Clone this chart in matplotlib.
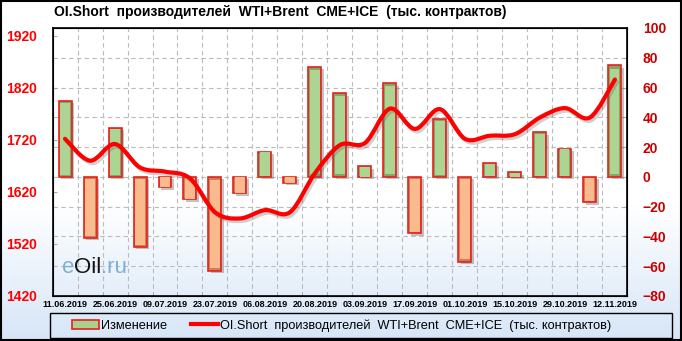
import numpy as np
import matplotlib
matplotlib.use("Agg")
import matplotlib.pyplot as plt
from matplotlib.path import Path
from matplotlib.patches import PathPatch, Rectangle
from matplotlib.lines import Line2D
import matplotlib.transforms as mtransforms

plt.rcParams['font.family'] = ['Liberation Sans', 'DejaVu Sans']

tick_labels = ['11.06.2019', '25.06.2019', '09.07.2019', '23.07.2019', '06.08.2019',
               '20.08.2019', '03.09.2019', '17.09.2019', '01.10.2019', '15.10.2019',
               '29.10.2019', '12.11.2019']
# weekly change, thousand contracts (right axis)
changes = [51, -41, 33, -47, -7, -15, -63, -11, 17, -4, 74, 56,
           7, 63, -38, 39, -57, 9, 3, 30, 19, -17, 75]
# OI short total (left axis)
oi_short = [1722, 1680, 1712, 1667, 1659, 1646, 1581, 1569, 1585, 1581, 1656, 1710,
            1714, 1780, 1741, 1779, 1722, 1728, 1731, 1763, 1781, 1763, 1836]

title = 'OI.Short  производителей  WTI+Brent  CME+ICE  (тыс. контрактов)'

fig = plt.figure(figsize=(6.82, 3.41), dpi=100)
renderer = fig.canvas.get_renderer()


def fit_size(s, target_px, weight='normal', base=10):
    t = fig.text(0, 0, s, fontsize=base, fontweight=weight)
    wpx = t.get_window_extent(renderer).width
    t.remove()
    return base * target_px / wpx


# background gradient
bg = fig.add_axes([0, 0, 1, 1], zorder=-10)
yy = np.linspace(1, 0, 341)
grad = np.clip((0.40 - yy) / 0.40, 0, 1)[:, None]
white = np.array([1, 1, 1])
blue = np.array([0.84, 0.90, 0.97])
img = white + grad[..., None] * (blue - white)
bg.imshow(img, aspect='auto', extent=[0, 1, 0, 1])
bg.set_axis_off()
fig.patches.append(Rectangle((0.001, 0.002), 0.997, 0.995, transform=fig.transFigure,
                             fill=False, edgecolor='black', lw=1.5))

ax2 = fig.add_axes([0.077, 0.132, 0.843, 0.786])
ax = ax2.twinx()
ax2.yaxis.tick_right()
ax.yaxis.tick_left()
ax.set_zorder(ax2.get_zorder() + 1)
ax.patch.set_visible(False)
ax2.patch.set_alpha(0.0)

x = np.arange(len(changes))

# bars with shadow
w = 0.52
shadow_off = mtransforms.offset_copy(ax2.transData, fig=fig, x=2.5, y=-2.5, units='dots')
for xi, v in zip(x, changes):
    ax2.bar(xi, v, width=w, color='#555555', alpha=0.35, transform=shadow_off, zorder=2)
for xi, v in zip(x, changes):
    if v >= 0:
        dark, light = '#7fa862', '#aed493'
    else:
        dark, light = '#c98257', '#f9bb8e'
    ax2.bar(xi, v, width=w, color=dark, edgecolor='#e8201e', linewidth=1.2, zorder=3)
    ax2.bar(xi, v * 0.94, width=w * 0.7, bottom=v * 0.03, color=light, linewidth=0, zorder=4)

ax2.set_ylim(-80, 100)
ax2.set_yticks(np.arange(-80, 101, 20))
ax2.set_xlim(-0.5, len(changes) - 0.5)
ax2.set_xticks(np.arange(0, len(changes), 2))
ax2.set_xticklabels(tick_labels, fontsize=6.5, fontweight='bold')
ax2.set_xticks(np.arange(0.5, len(changes) - 1, 1), minor=True)
ax2.tick_params(axis='x', which='major', length=0, pad=3)
ax2.tick_params(axis='x', which='minor', length=3, direction='in', color='#aaaaaa')
ax2.tick_params(axis='y', which='major', length=3, direction='in', color='#aaaaaa',
                labelcolor='#c80000', labelsize=10, pad=11)
for t in ax2.get_yticklabels():
    t.set_fontweight('bold')
ax2.grid(True, axis='y', which='major', ls=(0, (4, 3)), color='#bbbbbb', lw=0.8)
ax2.grid(True, axis='x', which='minor', ls=(0, (4, 3)), color='#bbbbbb', lw=0.8)
ax2.set_axisbelow(True)
for s in ax2.spines.values():
    s.set_color('black')
    s.set_linewidth(1.2)

# smooth line through OI points (Catmull-Rom as bezier)
pts = np.column_stack([x, oi_short]).astype(float)
ext = np.vstack([pts[0], pts, pts[-1]])
verts = [tuple(pts[0])]
codes = [Path.MOVETO]
for i in range(1, len(ext) - 2):
    p0, p1, p2, p3 = ext[i - 1], ext[i], ext[i + 1], ext[i + 2]
    c1 = p1 + (p2 - p0) / 6
    c2 = p2 - (p3 - p1) / 6
    verts += [tuple(c1), tuple(c2), tuple(p2)]
    codes += [Path.CURVE4] * 3
path = Path(verts, codes)
line_shadow = mtransforms.offset_copy(ax.transData, fig=fig, x=2, y=-2.5, units='dots')
ax.add_patch(PathPatch(path, fill=False, edgecolor='#666666', lw=3, alpha=0.3,
                       transform=line_shadow, capstyle='round'))
ax.add_patch(PathPatch(path, fill=False, edgecolor='#ff0000', lw=3, capstyle='round',
                       joinstyle='round', zorder=5))

ax.set_ylim(1420, 1935)
ax.set_yticks(np.arange(1420, 1921, 100))
ax.tick_params(axis='y', length=3, direction='in', color='#aaaaaa',
               labelcolor='#ff0000', labelsize=10, pad=11)
for t in ax.get_yticklabels():
    t.set_fontweight('bold')

# watermark eOil.ru
wm = ax2.text(0.016, 0.085, 'e', transform=ax2.transAxes, fontsize=16, color='#7fb0d8')
wm = ax2.annotate('Oil', xy=(1, 0), xycoords=wm, va='bottom', fontsize=16, color='#111111')
ax2.annotate('.ru', xy=(1, 0), xycoords=wm, va='bottom', fontsize=16, color='#7fb0d8')

title_size = fit_size(title, 452, weight='bold')
fig.text(54 / 682, 1 - 12 / 341, title, fontsize=title_size, fontweight='bold', va='center')

# legend
fig.patches.append(Rectangle((50 / 682, 3 / 341), 622 / 682, 25 / 341, transform=fig.transFigure,
                             fill=False, edgecolor='black', lw=1.0))
leg_size = fit_size(title, 394)
handles = [Rectangle((0, 0), 1, 1, facecolor='#a9d18e', edgecolor='#e8201e', lw=1.2),
           Line2D([0], [0], color='#ff0000', lw=3)]
em = leg_size * 100 / 72
fig.legend(handles, ['Изменение', title], loc='center left', ncol=2,
           bbox_to_anchor=(72 / 682, 15.5 / 341), fontsize=leg_size, frameon=False,
           columnspacing=24 / em, handlelength=27 / em, handletextpad=2 / em,
           borderpad=0, borderaxespad=0)

fig.savefig('out.png', dpi=100)
